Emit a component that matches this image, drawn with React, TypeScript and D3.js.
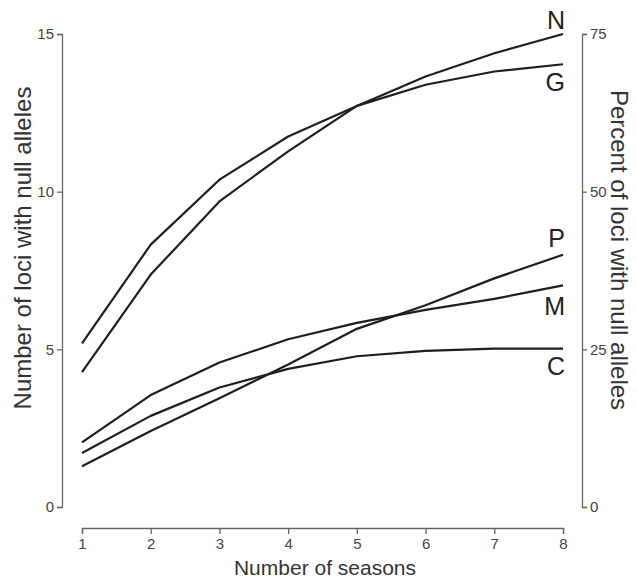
import React, { useEffect, useRef } from 'react'
import * as d3 from 'd3'

const seasons = [1, 2, 3, 4, 5, 6, 7, 8]
const seriesNames = ['N', 'G', 'P', 'M', 'C']
const nValues = [4.28, 7.37, 9.69, 11.28, 12.72, 13.65, 14.39, 15.0]
const gValues = [5.19, 8.32, 10.38, 11.75, 12.72, 13.39, 13.81, 14.04]
const pValues = [1.29, 2.41, 3.45, 4.52, 5.65, 6.4, 7.25, 8.0]
const mValues = [2.05, 3.55, 4.58, 5.32, 5.84, 6.25, 6.6, 7.03]
const cValues = [1.71, 2.89, 3.79, 4.38, 4.78, 4.95, 5.02, 5.02]
const leftTicks = [0, 5, 10, 15]
const rightTicks = [0, 25, 50, 75]

const W = 637
const H = 581
const FONT = 'Liberation Sans, Arial, sans-serif'

export default function App() {
  const svgRef = useRef<SVGSVGElement>(null)

  useEffect(() => {
    const svg = d3.select(svgRef.current)
    svg.selectAll('*').remove()

    const x = d3.scaleLinear().domain([1, 8]).range([82, 563])
    const y = d3.scaleLinear().domain([0, 15]).range([507, 34])
    const y2 = d3.scaleLinear().domain([0, 75]).range([507, 34])

    const styleAxis = (g: any) => {
      g.select('.domain').attr('stroke', '#666').attr('stroke-width', 1.3)
      g.selectAll('.tick line').attr('stroke', '#666').attr('stroke-width', 1.3)
      g.selectAll('.tick text')
        .attr('fill', '#444')
        .style('font-family', FONT)
        .style('font-size', '15px')
    }

    svg.append('g')
      .attr('transform', 'translate(62,0)')
      .call(d3.axisLeft(y).tickValues(leftTicks).tickSize(5).tickSizeOuter(5).tickPadding(3))
      .call(styleAxis)

    svg.append('g')
      .attr('transform', 'translate(582,0)')
      .call(d3.axisRight(y2).tickValues(rightTicks).tickSize(5).tickSizeOuter(5).tickPadding(3))
      .call(styleAxis)

    svg.append('g')
      .attr('transform', 'translate(0,528)')
      .call(d3.axisBottom(x).tickValues(seasons).tickFormat(d3.format('d')).tickSize(6).tickSizeOuter(6).tickPadding(4))
      .call(styleAxis)

    const all = [nValues, gValues, pValues, mValues, cValues]
    const line = d3.line<number>()
      .x((d, i) => x(seasons[i]))
      .y(d => y(d))

    svg.selectAll('.series')
      .data(all)
      .enter().append('path')
      .attr('class', 'series')
      .attr('d', d => line(d))
      .attr('fill', 'none')
      .attr('stroke', '#1e1e1e')
      .attr('stroke-width', 2.2)
      .attr('stroke-linejoin', 'round')

    // labels above or below the end of each line
    const offsets = [-5, 27, -8, 30, 26]
    svg.selectAll('.lbl')
      .data(seriesNames)
      .enter().append('text')
      .attr('class', 'lbl')
      .attr('x', x(8) + 2)
      .attr('y', (d, i) => y(all[i][all[i].length - 1]) + offsets[i])
      .attr('text-anchor', 'end')
      .attr('fill', '#222')
      .style('font-family', FONT)
      .style('font-size', '25px')
      .text(d => d)

    svg.append('text')
      .attr('x', 325)
      .attr('y', 575)
      .attr('text-anchor', 'middle')
      .attr('fill', '#333')
      .style('font-family', FONT)
      .style('font-size', '21px')
      .text('Number of seasons')

    svg.append('text')
      .attr('transform', 'translate(31,248) rotate(-90)')
      .attr('text-anchor', 'middle')
      .attr('fill', '#333')
      .style('font-family', FONT)
      .style('font-size', '24px')
      .text('Number of loci with null alleles')

    svg.append('text')
      .attr('transform', 'translate(611,250) rotate(90)')
      .attr('text-anchor', 'middle')
      .attr('fill', '#333')
      .style('font-family', FONT)
      .style('font-size', '24px')
      .text('Percent of loci with null alleles')
  }, [])

  return (
    <div style={{ position: 'absolute', left: 0, top: 0, width: W, height: H, background: '#fff' }}>
      <svg ref={svgRef} width={W} height={H}></svg>
    </div>
  )
}
